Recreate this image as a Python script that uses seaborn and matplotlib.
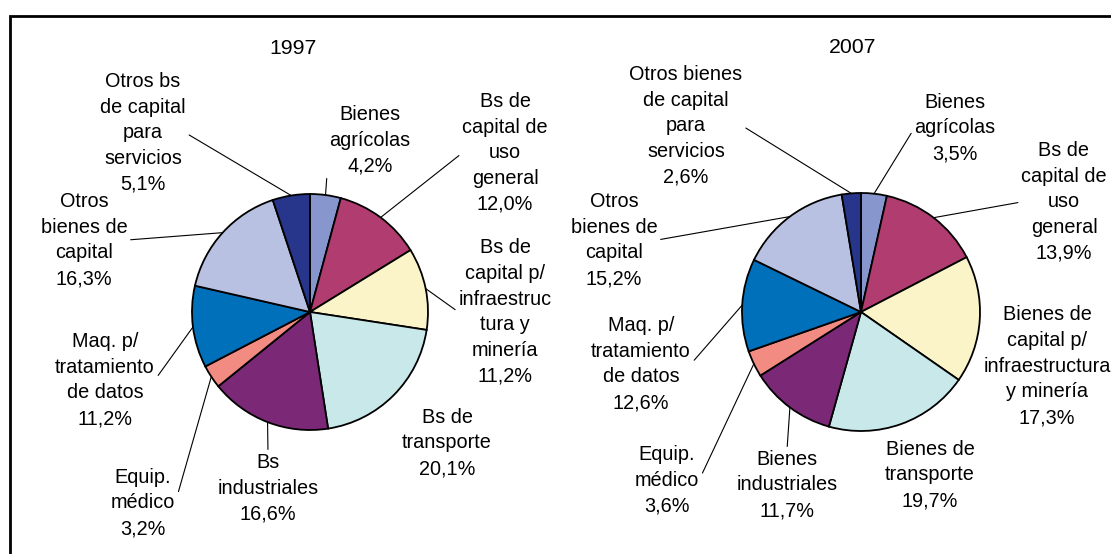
import numpy as np
import matplotlib
matplotlib.use("Agg")
import matplotlib.pyplot as plt
from matplotlib.patches import Rectangle
import seaborn as sns

sns.set_theme(style="white")
plt.rcParams["font.family"] = ["Liberation Sans", "DejaVu Sans"]
plt.rcParams["text.color"] = "black"

# data
years = ["1997", "2007"]

names_1997 = ["Bienes\nagrícolas", "Bs de\ncapital de\nuso\ngeneral",
              "Bs de\ncapital p/\ninfraestruc\ntura y\nminería", "Bs de\ntransporte",
              "Bs\nindustriales", "Equip.\nmédico", "Maq. p/\ntratamiento\nde datos",
              "Otros\nbienes de\ncapital", "Otros bs\nde capital\npara\nservicios"]
names_2007 = ["Bienes\nagrícolas", "Bs de\ncapital de\nuso\ngeneral",
              "Bienes de\ncapital p/\ninfraestructura\ny minería", "Bienes de\ntransporte",
              "Bienes\nindustriales", "Equip.\nmédico", "Maq. p/\ntratamiento\nde datos",
              "Otros\nbienes de\ncapital", "Otros bienes\nde capital\npara\nservicios"]

share_1997 = [4.2, 12.0, 11.2, 20.1, 16.6, 3.2, 11.2, 16.3, 5.1]
share_2007 = [3.5, 13.9, 17.3, 19.7, 11.7, 3.6, 12.6, 15.2, 2.6]

colors = ['#8796CC', '#B03C70', '#FAF4C8', '#C9E8EA', '#7B2877',
          '#F28B82', '#0070BA', '#B9C1E2', '#27368A']
pal = sns.color_palette(colors)

# layout (pixels): pie centre, radius, label centres, leader anchor on label
W, H = 1111, 554
FS, LS = 14.3, 1.45
layout = {
    "1997": dict(box=(0, 555), c=(310, 312), r=118, title=(293, 48),
                 labels=[(370, 140), (505, 153), (505, 312), (447, 443), (268, 488),
                         (143, 503), (105, 380), (84, 240), (143, 133)],
                 lead=[(0, .5), (0, .5), (0, .5), None, (.5, 1),
                       (1, .5), (1, .5), (1, .5), (1, .5)]),
    "2007": dict(box=(555, 1111), c=(861, 312), r=119, title=(853, 48),
                 labels=[(955, 128), (1064, 202), (1047, 366), (930, 475), (787, 485),
                         (667, 480), (641, 364), (614, 240), (686, 126)],
                 lead=[(0, .5), (0, .5), None, None, (.5, 1),
                       (1, .5), (1, .5), (1, .5), (1, .5)]),
}

fig = plt.figure(figsize=(W / 100, H / 100), dpi=100)

for year, names, vals in [("1997", names_1997, share_1997), ("2007", names_2007, share_2007)]:
    L = layout[year]
    x0, x1 = L["box"]
    cx, cy = L["c"]
    r = L["r"]
    ax = fig.add_axes([x0 / W, 0, (x1 - x0) / W, 1])
    wedges, _ = ax.pie(vals, colors=pal, startangle=90, counterclock=False,
                       wedgeprops=dict(edgecolor='black', linewidth=1.3))
    ax.set_aspect('auto')
    ax.set_xlim((x0 - cx) / r, (x1 - cx) / r)
    ax.set_ylim((cy - H) / r, cy / r)
    ax.axis('off')

    ax.text((L["title"][0] - cx) / r, (cy - L["title"][1]) / r, year,
            ha='center', va='center', fontsize=FS + 1)

    for w, name, v, (px, py), rel in zip(wedges, names, vals, L["labels"], L["lead"]):
        txt = name + "\n" + f"{v:.1f}".replace('.', ',') + "%"
        pos = ((px - cx) / r, (cy - py) / r)
        ang = np.deg2rad((w.theta1 + w.theta2) / 2)
        tip = (np.cos(ang), np.sin(ang))
        if rel is None:
            ax.text(*pos, txt, ha='center', va='center', fontsize=FS, linespacing=LS)
        else:
            ax.annotate(txt, xy=tip, xytext=pos, ha='center', va='center',
                        fontsize=FS, linespacing=LS,
                        arrowprops=dict(arrowstyle='-', color='black', lw=0.8,
                                        shrinkA=0, shrinkB=0, relpos=rel))

# outer frame of the chart area
fig.add_artist(Rectangle((10 / W, -0.05), 1.1, 1 - 16 / H + 0.05, transform=fig.transFigure,
                         fill=False, edgecolor='black', linewidth=2))

fig.savefig("out.png", dpi=100)
